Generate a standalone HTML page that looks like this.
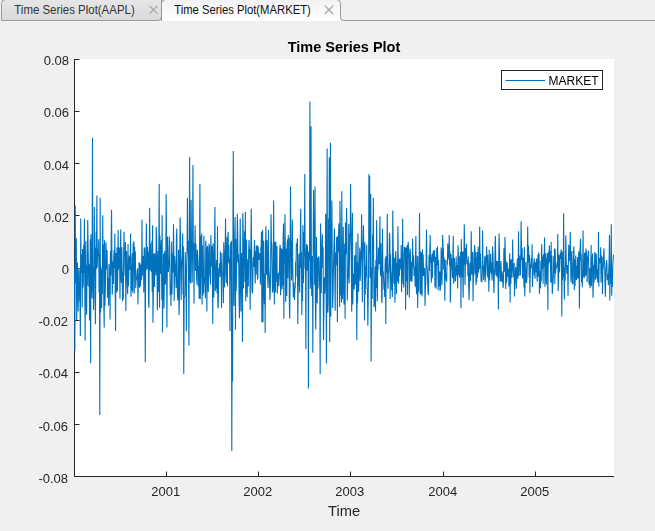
<!DOCTYPE html>
<html><head><meta charset="utf-8"><style>
html,body{margin:0;padding:0;}
body{width:655px;height:531px;background:#f0f0f0;position:relative;overflow:hidden;font-family:"Liberation Sans",sans-serif;}
.tabbar{position:absolute;left:0;top:0;width:655px;height:21px;}
svg{position:absolute;left:0;top:0;}
.plot{will-change:transform;}
</style></head><body>
<svg width="655" height="531" viewBox="0 0 655 531">
<defs>
<linearGradient id="gInact" x1="0" y1="0" x2="0" y2="1"><stop offset="0" stop-color="#e6e6e6"/><stop offset="1" stop-color="#dadada"/></linearGradient>
<linearGradient id="gAct" x1="0" y1="0" x2="0" y2="1"><stop offset="0" stop-color="#f2f2f4"/><stop offset="1" stop-color="#ffffff"/></linearGradient>
</defs>
<!-- tab bar -->
<path d="M1.5,20.5 L1.5,3.5 Q1.5,-0.5 5.5,-0.5 L161.5,-0.5 L161.5,17 Q161.5,20.5 158,20.5 Z" fill="url(#gInact)" stroke="#9a9a9a" stroke-width="1"/>
<line x1="0" y1="21.5" x2="161" y2="21.5" stroke="#f5f5f5"/>
<rect x="162" y="0" width="178" height="21" fill="url(#gAct)"/>
<path d="M161.5,21 L161.5,3.5 Q161.5,-0.5 165.5,-0.5 L336.5,-0.5 Q340.5,-0.5 340.5,3.5 L340.5,17 Q340.5,20.5 344,20.5 L655,20.5" fill="none" stroke="#9a9a9a" stroke-width="1"/>
<g font-family="Liberation Sans" font-size="12.3">
<text x="14.3" y="13.8" fill="#333" textLength="120.4" lengthAdjust="spacingAndGlyphs">Time Series Plot(AAPL)</text>
<text x="174.2" y="13.8" fill="#111" textLength="136.6" lengthAdjust="spacingAndGlyphs">Time Series Plot(MARKET)</text>
</g>
<g stroke="#a4a4a4" stroke-width="1.2">
<path d="M149.6,5.8 L157.4,13.6 M157.4,5.8 L149.6,13.6"/>
<path d="M324.8,5.6 L333.2,14 M333.2,5.6 L324.8,14"/>
</g>
</svg>
<svg class="plot" width="655" height="531" viewBox="0 0 655 531">
<!-- plot area -->
<rect x="74" y="59" width="540" height="418" fill="#ffffff"/>
<g stroke="#262626" stroke-width="1" fill="none">
<line x1="74.5" y1="59" x2="74.5" y2="477"/>
<line x1="74" y1="476.5" x2="614" y2="476.5"/>
<line x1="74.5" y1="59.5" x2="79.5" y2="59.5"/><line x1="74.5" y1="111.5" x2="79.5" y2="111.5"/><line x1="74.5" y1="163.5" x2="79.5" y2="163.5"/><line x1="74.5" y1="215.5" x2="79.5" y2="215.5"/><line x1="74.5" y1="268.5" x2="79.5" y2="268.5"/><line x1="74.5" y1="320.5" x2="79.5" y2="320.5"/><line x1="74.5" y1="372.5" x2="79.5" y2="372.5"/><line x1="74.5" y1="424.5" x2="79.5" y2="424.5"/><line x1="74.5" y1="476.5" x2="79.5" y2="476.5"/><line x1="166.5" y1="476.5" x2="166.5" y2="471.5"/><line x1="258.5" y1="476.5" x2="258.5" y2="471.5"/><line x1="350.5" y1="476.5" x2="350.5" y2="471.5"/><line x1="443.5" y1="476.5" x2="443.5" y2="471.5"/><line x1="535.5" y1="476.5" x2="535.5" y2="471.5"/>
</g>
<g fill="none" stroke="#0072bd" stroke-width="1.1" stroke-linejoin="miter"><polyline points="74.50,267.9 74.87,350.7 75.23,205.4 75.60,283.4 75.97,263.0 76.33,238.3 76.70,320.5 77.07,281.3 77.43,262.5 77.80,285.0 78.17,311.5 78.53,285.3 78.90,268.7 79.27,271.3 79.63,301.4 80.00,300.4 80.37,335.9 80.73,218.6 81.10,272.9 81.47,254.4 81.83,259.7 82.20,307.5 82.57,249.1 82.93,288.0 83.30,283.6 83.67,245.2 84.03,273.0 84.40,218.6 84.77,278.3 85.13,340.8 85.50,268.5 85.87,241.2 86.23,299.5 86.60,314.7 86.97,265.2 87.33,285.7 87.70,220.0 88.07,244.7 88.43,266.1 88.80,286.8 89.17,264.2 89.53,320.5 89.90,307.9 90.27,239.2 90.63,363.2 91.00,234.3 91.37,275.5 91.73,284.2 92.10,298.6 92.47,137.8 92.83,290.6 93.20,267.6 93.57,310.0 93.93,296.3 94.30,207.0 94.67,276.0 95.03,247.4 95.40,324.3 95.77,274.9 96.13,231.8 96.50,269.1 96.87,195.5 97.23,267.5 97.60,253.9 97.97,248.8 98.33,256.0 98.70,239.3 99.07,292.1 99.43,254.1 99.80,415.0 100.17,197.8 100.53,312.6 100.90,266.5 101.27,304.9 101.63,308.0 102.00,269.4 102.37,293.9 102.73,215.3 103.10,262.7 103.47,244.6 103.83,304.3 104.20,327.6 104.57,240.3 104.93,306.1 105.30,290.1 105.67,265.6 106.03,242.2 106.40,269.4 106.77,254.1 107.13,249.9 107.50,297.8 107.87,287.9 108.23,277.8 108.60,305.4 108.97,264.0 109.33,271.3 109.70,268.0 110.07,319.4 110.43,251.3 110.80,275.4 111.17,241.8 111.53,209.7 111.90,254.9 112.27,294.7 112.63,279.2 113.00,261.5 113.37,284.0 113.73,258.8 114.10,250.1 114.47,268.0 114.83,233.4 115.20,289.4 115.57,331.0 115.93,253.0 116.30,260.4 116.67,292.4 117.03,247.2 117.40,291.1 117.77,272.7 118.13,230.0 118.50,269.5 118.87,255.4 119.23,247.6 119.60,254.9 119.97,298.8 120.33,261.6 120.70,229.5 121.07,273.9 121.43,282.9 121.80,247.3 122.17,271.2 122.53,301.3 122.90,271.4 123.27,299.2 123.63,259.0 124.00,231.8 124.37,255.9 124.73,250.6 125.10,275.9 125.47,242.0 125.83,311.1 126.20,273.6 126.57,250.9 126.93,280.1 127.30,283.0 127.67,294.0 128.03,244.0 128.40,286.3 128.77,274.5 129.13,259.2 129.50,255.6 129.87,269.6 130.23,267.1 130.60,233.4 130.97,296.7 131.33,266.7 131.70,290.8 132.07,257.6 132.43,253.3 132.80,292.7 133.17,242.7 133.53,268.5 133.90,241.3 134.27,293.5 134.63,246.7 135.00,272.6 135.37,251.6 135.73,288.3 136.10,280.1 136.47,279.5 136.83,276.0 137.20,271.2 137.57,268.4 137.93,304.6 138.30,283.8 138.67,284.0 139.03,262.3 139.40,287.7 139.77,262.9 140.13,265.2 140.50,286.4 140.87,264.4 141.23,280.0 141.60,279.1 141.97,219.6 142.33,275.7 142.70,258.5 143.07,256.8 143.43,256.0 143.80,292.5 144.17,248.4 144.53,247.5 144.90,251.0 145.27,362.2 145.63,264.1 146.00,270.7 146.37,223.5 146.73,265.9 147.10,269.0 147.47,246.8 147.83,253.7 148.20,253.2 148.57,303.0 148.93,307.7 149.30,249.4 149.67,207.7 150.03,270.5 150.40,243.3 150.77,261.9 151.13,268.7 151.50,272.2 151.87,240.7 152.23,292.2 152.60,225.2 152.97,322.7 153.33,292.5 153.70,253.5 154.07,272.2 154.43,286.9 154.80,253.2 155.17,265.7 155.53,263.9 155.90,275.4 156.27,226.8 156.63,239.6 157.00,265.4 157.37,310.3 157.73,286.6 158.10,250.9 158.47,291.9 158.83,243.5 159.20,184.0 159.57,307.7 159.93,235.7 160.30,258.8 160.67,273.9 161.03,249.0 161.40,240.1 161.77,299.8 162.13,215.3 162.50,332.6 162.87,278.3 163.23,298.8 163.60,253.7 163.97,308.5 164.33,279.9 164.70,251.1 165.07,271.0 165.43,284.5 165.80,268.3 166.17,193.9 166.53,240.9 166.90,327.6 167.27,271.4 167.63,236.6 168.00,257.3 168.37,271.9 168.73,266.0 169.10,265.2 169.47,236.7 169.83,255.0 170.20,295.3 170.57,282.1 170.93,306.1 171.30,283.1 171.67,241.4 172.03,294.6 172.40,253.2 172.77,272.5 173.13,270.9 173.50,224.2 173.87,256.9 174.23,300.9 174.60,256.1 174.97,262.2 175.33,276.6 175.70,264.3 176.07,287.9 176.43,237.9 176.80,228.5 177.17,282.4 177.53,295.6 177.90,300.4 178.27,281.7 178.63,249.8 179.00,315.0 179.37,302.2 179.73,263.4 180.10,217.6 180.47,235.0 180.83,270.2 181.20,300.1 181.57,267.4 181.93,260.6 182.30,254.8 182.67,233.4 183.03,294.6 183.40,246.6 183.77,374.1 184.13,298.5 184.50,296.7 184.87,295.2 185.23,251.9 185.60,273.0 185.97,266.1 186.33,331.2 186.70,261.2 187.07,250.8 187.43,197.8 187.80,252.7 188.17,240.9 188.53,270.9 188.90,345.5 189.27,239.8 189.63,157.0 190.00,276.9 190.37,281.5 190.73,283.6 191.10,199.8 191.47,244.9 191.83,246.0 192.20,282.4 192.57,244.0 192.93,164.9 193.30,249.9 193.67,250.9 194.03,303.6 194.40,243.3 194.77,253.9 195.13,225.2 195.50,270.9 195.87,243.7 196.23,257.1 196.60,275.0 196.97,284.9 197.33,249.8 197.70,255.3 198.07,262.1 198.43,286.7 198.80,266.2 199.17,298.7 199.53,253.6 199.90,184.0 200.27,299.2 200.63,283.6 201.00,235.8 201.37,277.4 201.73,233.5 202.10,304.4 202.47,245.2 202.83,295.7 203.20,281.8 203.57,293.3 203.93,235.8 204.30,276.3 204.67,281.9 205.03,284.5 205.40,298.2 205.77,240.7 206.13,247.5 206.50,247.6 206.87,311.5 207.23,263.8 207.60,246.0 207.97,284.0 208.33,292.1 208.70,256.8 209.07,244.7 209.43,245.3 209.80,274.2 210.17,277.9 210.53,284.8 210.90,235.0 211.27,261.1 211.63,266.4 212.00,245.7 212.37,266.8 212.73,324.0 213.10,243.2 213.47,280.4 213.83,297.4 214.20,259.8 214.57,240.8 214.93,207.0 215.30,291.2 215.67,269.5 216.03,288.8 216.40,260.0 216.77,284.5 217.13,293.4 217.50,226.2 217.87,308.3 218.23,306.6 218.60,281.6 218.97,268.0 219.33,273.6 219.70,263.1 220.07,277.1 220.43,251.5 220.80,271.2 221.17,261.4 221.53,308.0 221.90,253.1 222.27,275.1 222.63,273.2 223.00,273.4 223.37,303.2 223.73,242.3 224.10,256.8 224.47,287.4 224.83,256.7 225.20,249.5 225.57,218.6 225.93,275.5 226.30,283.0 226.67,263.6 227.03,237.3 227.40,286.4 227.77,238.0 228.13,231.9 228.50,262.3 228.87,245.0 229.23,264.2 229.60,258.6 229.97,331.2 230.33,270.6 230.70,242.5 231.07,280.1 231.43,240.9 231.80,451.0 232.17,319.2 232.53,381.3 232.90,240.7 233.27,151.0 233.63,282.5 234.00,305.9 234.37,264.1 234.73,234.7 235.10,217.0 235.47,329.8 235.83,238.7 236.20,290.9 236.57,267.1 236.93,257.3 237.30,213.7 237.67,230.8 238.03,262.3 238.40,253.9 238.77,265.6 239.13,303.6 239.50,318.2 239.87,262.0 240.23,218.6 240.60,273.0 240.97,311.5 241.33,252.7 241.70,256.5 242.07,254.8 242.43,341.9 242.80,213.0 243.17,227.0 243.53,288.4 243.90,245.7 244.27,247.2 244.63,231.3 245.00,282.1 245.37,212.0 245.73,301.3 246.10,272.5 246.47,239.4 246.83,289.4 247.20,297.1 247.57,266.0 247.93,259.1 248.30,286.5 248.67,251.3 249.03,240.1 249.40,249.9 249.77,248.9 250.13,309.7 250.50,273.8 250.87,246.7 251.23,208.7 251.60,245.3 251.97,288.9 252.33,293.5 252.70,289.5 253.07,262.4 253.43,257.0 253.80,266.9 254.17,251.8 254.53,240.0 254.90,270.5 255.27,283.5 255.63,251.2 256.00,260.4 256.37,245.9 256.73,274.5 257.10,245.1 257.47,279.5 257.83,278.5 258.20,246.4 258.57,256.5 258.93,260.0 259.30,252.9 259.67,256.2 260.03,253.9 260.40,284.5 260.77,248.5 261.13,248.8 261.50,231.8 261.87,322.2 262.23,294.2 262.60,230.0 262.97,322.2 263.33,276.2 263.70,240.8 264.07,288.0 264.43,304.2 264.80,273.8 265.17,333.0 265.53,245.4 265.90,226.2 266.27,267.9 266.63,274.8 267.00,239.9 267.37,255.8 267.73,282.2 268.10,287.9 268.47,230.0 268.83,267.7 269.20,273.8 269.57,284.9 269.93,300.3 270.30,289.8 270.67,268.9 271.03,214.3 271.40,241.7 271.77,244.9 272.13,264.2 272.50,292.5 272.87,291.4 273.23,285.9 273.60,200.5 273.97,257.9 274.33,304.4 274.70,243.5 275.07,242.1 275.43,292.4 275.80,241.6 276.17,281.5 276.53,265.5 276.90,246.0 277.27,293.8 277.63,285.6 278.00,278.8 278.37,272.7 278.73,286.0 279.10,279.1 279.47,268.9 279.83,248.2 280.20,244.9 280.57,295.3 280.93,279.8 281.30,248.2 281.67,284.2 282.03,289.4 282.40,249.3 282.77,285.5 283.13,241.7 283.50,223.5 283.87,318.7 284.23,242.8 284.60,264.1 284.97,214.3 285.33,254.6 285.70,301.9 286.07,284.7 286.43,248.4 286.80,296.0 287.17,244.7 287.53,239.4 287.90,278.3 288.27,235.0 288.63,250.5 289.00,238.1 289.37,304.0 289.73,318.7 290.10,279.6 290.47,186.6 290.83,238.1 291.20,247.0 291.57,280.6 291.93,266.0 292.30,219.6 292.67,260.0 293.03,284.4 293.40,297.3 293.77,282.5 294.13,295.3 294.50,299.9 294.87,287.8 295.23,288.6 295.60,261.8 295.97,276.7 296.33,244.1 296.70,244.5 297.07,244.8 297.43,238.4 297.80,324.0 298.17,288.4 298.53,281.8 298.90,253.5 299.27,274.6 299.63,292.6 300.00,266.6 300.37,233.5 300.73,208.7 301.10,267.7 301.47,251.9 301.83,315.0 302.20,276.1 302.57,301.3 302.93,225.2 303.30,283.3 303.67,272.8 304.03,232.0 304.40,256.6 304.77,174.1 305.13,268.6 305.50,252.1 305.87,349.0 306.23,249.8 306.60,243.9 306.97,270.7 307.33,245.0 307.70,252.2 308.07,270.3 308.43,388.4 308.80,251.5 309.17,255.8 309.53,260.7 309.90,101.6 310.27,288.7 310.63,269.5 311.00,126.3 311.37,262.4 311.73,296.3 312.10,256.0 312.47,273.2 312.83,352.7 313.20,243.6 313.57,189.9 313.93,248.1 314.30,244.2 314.67,284.9 315.03,186.6 315.40,301.2 315.77,329.4 316.13,292.0 316.50,237.1 316.87,285.0 317.23,303.3 317.60,257.7 317.97,288.6 318.33,259.0 318.70,256.2 319.07,260.4 319.43,279.8 319.80,291.9 320.17,374.1 320.53,223.5 320.90,243.3 321.27,293.2 321.63,248.2 322.00,248.7 322.37,234.3 322.73,267.9 323.10,247.3 323.47,340.1 323.83,315.1 324.20,277.4 324.57,293.9 324.93,291.5 325.30,277.8 325.67,213.7 326.03,226.5 326.40,363.4 326.77,278.2 327.13,148.4 327.50,306.3 327.87,312.6 328.23,301.2 328.60,218.4 328.97,244.5 329.33,157.6 329.70,342.0 330.07,220.2 330.43,142.8 330.80,316.5 331.17,221.7 331.53,255.4 331.90,200.5 332.27,265.1 332.63,308.0 333.00,296.0 333.37,272.3 333.73,256.3 334.10,239.9 334.47,228.5 334.83,277.1 335.20,310.8 335.57,252.6 335.93,265.2 336.30,254.8 336.67,236.9 337.03,243.6 337.40,322.2 337.77,236.1 338.13,252.2 338.50,239.2 338.87,223.5 339.23,234.8 339.60,306.9 339.97,201.1 340.33,233.0 340.70,295.6 341.07,285.3 341.43,302.5 341.80,191.2 342.17,288.9 342.53,299.2 342.90,265.2 343.27,226.7 343.63,285.9 344.00,304.6 344.37,261.1 344.73,243.6 345.10,318.7 345.47,222.8 345.83,254.4 346.20,243.8 346.57,207.7 346.93,231.3 347.30,300.4 347.67,280.0 348.03,278.2 348.40,264.4 348.77,224.0 349.13,283.3 349.50,255.3 349.87,233.8 350.23,236.4 350.60,184.0 350.97,235.8 351.33,264.6 351.70,311.4 352.07,234.2 352.43,213.0 352.80,304.4 353.17,282.5 353.53,273.4 353.90,276.3 354.27,289.5 354.63,255.3 355.00,282.0 355.37,284.6 355.73,259.1 356.10,241.8 356.47,282.2 356.83,340.1 357.20,262.6 357.57,303.5 357.93,233.4 358.30,273.5 358.67,291.7 359.03,268.2 359.40,265.5 359.77,247.6 360.13,280.9 360.50,273.1 360.87,250.9 361.23,258.7 361.60,214.3 361.97,256.0 362.33,302.3 362.70,251.8 363.07,242.7 363.43,225.2 363.80,248.5 364.17,263.1 364.53,320.5 364.90,242.3 365.27,295.0 365.63,265.4 366.00,276.1 366.37,276.5 366.73,244.7 367.10,288.7 367.47,288.9 367.83,325.8 368.20,300.0 368.57,273.6 368.93,174.1 369.30,252.9 369.67,176.0 370.03,277.7 370.40,224.7 370.77,193.9 371.13,361.6 371.50,289.0 371.87,267.5 372.23,299.1 372.60,234.4 372.97,246.3 373.33,197.8 373.70,263.4 374.07,307.2 374.43,304.3 374.80,296.6 375.17,266.4 375.53,311.5 375.90,259.7 376.27,288.1 376.63,220.2 377.00,253.0 377.37,301.2 377.73,266.8 378.10,269.4 378.47,247.4 378.83,259.9 379.20,263.9 379.57,249.9 379.93,216.3 380.30,268.6 380.67,275.6 381.03,243.3 381.40,273.7 381.77,303.0 382.13,297.1 382.50,228.7 382.87,275.3 383.23,271.3 383.60,279.8 383.97,289.4 384.33,281.8 384.70,296.9 385.07,266.5 385.43,257.4 385.80,324.0 386.17,256.0 386.53,263.5 386.90,272.5 387.27,213.7 387.63,276.9 388.00,288.7 388.37,272.0 388.73,271.9 389.10,260.9 389.47,232.7 389.83,238.2 390.20,298.9 390.57,254.3 390.93,268.7 391.30,273.7 391.67,290.2 392.03,283.1 392.40,296.9 392.77,210.4 393.13,244.8 393.50,265.5 393.87,284.0 394.23,257.4 394.60,266.1 394.97,302.6 395.33,263.1 395.70,250.9 396.07,259.5 396.43,294.0 396.80,263.1 397.17,280.4 397.53,280.9 397.90,226.2 398.27,264.0 398.63,283.7 399.00,258.5 399.37,276.2 399.73,259.0 400.10,260.1 400.47,262.6 400.83,269.8 401.20,245.1 401.57,292.0 401.93,272.4 402.30,277.6 402.67,218.6 403.03,283.9 403.40,274.5 403.77,287.4 404.13,254.4 404.50,246.8 404.87,248.6 405.23,251.0 405.60,309.7 405.97,247.4 406.33,281.4 406.70,278.3 407.07,245.2 407.43,295.3 407.80,251.0 408.17,241.7 408.53,250.0 408.90,256.5 409.27,297.6 409.63,278.5 410.00,248.6 410.37,251.7 410.73,281.0 411.10,262.5 411.47,261.5 411.83,281.9 412.20,276.9 412.57,238.4 412.93,258.3 413.30,267.5 413.67,255.5 414.03,276.0 414.40,273.1 414.77,266.9 415.13,286.6 415.50,259.2 415.87,236.1 416.23,286.5 416.60,294.2 416.97,279.4 417.33,255.8 417.70,308.0 418.07,278.0 418.43,292.1 418.80,256.5 419.17,263.5 419.53,213.0 419.90,288.0 420.27,294.2 420.63,251.4 421.00,294.4 421.37,270.7 421.73,252.4 422.10,296.6 422.47,249.2 422.83,276.0 423.20,254.5 423.57,272.6 423.93,276.1 424.30,267.8 424.67,269.2 425.03,306.1 425.40,287.6 425.77,283.2 426.13,262.3 426.50,229.5 426.87,264.9 427.23,268.8 427.60,278.7 427.97,291.9 428.33,295.1 428.70,279.5 429.07,255.1 429.43,271.0 429.80,250.3 430.17,235.0 430.53,262.9 430.90,257.1 431.27,282.7 431.63,275.9 432.00,253.7 432.37,278.2 432.73,261.1 433.10,251.6 433.47,261.7 433.83,250.3 434.20,251.5 434.57,250.1 434.93,285.7 435.30,287.4 435.67,256.7 436.03,288.7 436.40,263.6 436.77,248.1 437.13,265.4 437.50,246.4 437.87,262.0 438.23,290.2 438.60,260.1 438.97,281.7 439.33,286.4 439.70,271.5 440.07,290.9 440.43,287.1 440.80,276.3 441.17,247.4 441.53,256.3 441.90,285.2 442.27,269.3 442.63,235.0 443.00,247.7 443.37,249.2 443.73,269.8 444.10,257.4 444.47,268.1 444.83,300.8 445.20,259.7 445.57,274.4 445.93,278.5 446.30,278.6 446.67,281.6 447.03,259.9 447.40,264.4 447.77,243.6 448.13,257.3 448.50,245.2 448.87,259.8 449.23,235.0 449.60,265.7 449.97,251.3 450.33,302.6 450.70,282.2 451.07,254.1 451.43,268.4 451.80,258.6 452.17,270.2 452.53,277.9 452.90,255.7 453.27,235.9 453.63,283.5 454.00,281.5 454.37,257.7 454.73,267.4 455.10,273.4 455.47,281.3 455.83,273.7 456.20,256.4 456.57,275.6 456.93,265.1 457.30,269.5 457.67,288.5 458.03,245.3 458.40,256.2 458.77,275.1 459.13,255.8 459.50,277.6 459.87,258.3 460.23,267.2 460.60,252.1 460.97,308.3 461.33,239.0 461.70,272.9 462.07,277.2 462.43,251.4 462.80,274.8 463.17,297.7 463.53,251.8 463.90,264.5 464.27,224.2 464.63,247.0 465.00,285.1 465.37,267.0 465.73,248.1 466.10,259.8 466.47,243.7 466.83,264.3 467.20,261.7 467.57,260.0 467.93,276.2 468.30,256.5 468.67,283.6 469.03,300.0 469.40,288.8 469.77,264.9 470.13,262.4 470.50,281.0 470.87,266.5 471.23,231.2 471.60,274.3 471.97,272.5 472.33,251.9 472.70,253.5 473.07,301.2 473.43,269.3 473.80,276.3 474.17,254.1 474.53,245.3 474.90,249.9 475.27,273.7 475.63,252.3 476.00,285.1 476.37,257.2 476.73,282.1 477.10,252.0 477.47,277.4 477.83,265.8 478.20,246.7 478.57,272.7 478.93,259.7 479.30,269.3 479.67,226.5 480.03,267.9 480.40,253.6 480.77,269.2 481.13,281.1 481.50,281.0 481.87,281.5 482.23,269.1 482.60,230.5 482.97,269.0 483.33,269.3 483.70,280.2 484.07,265.6 484.43,266.5 484.80,255.7 485.17,281.9 485.53,273.8 485.90,257.0 486.27,261.3 486.63,246.5 487.00,264.8 487.37,276.5 487.73,254.8 488.10,278.2 488.47,264.9 488.83,291.8 489.20,249.7 489.57,280.6 489.93,265.6 490.30,272.2 490.67,253.7 491.03,273.3 491.40,262.6 491.77,275.0 492.13,280.4 492.50,246.6 492.87,252.9 493.23,264.0 493.60,281.6 493.97,293.0 494.33,270.0 494.70,274.6 495.07,244.4 495.43,235.9 495.80,267.8 496.17,275.8 496.53,260.8 496.90,269.3 497.27,277.6 497.63,261.0 498.00,263.5 498.37,309.4 498.73,259.8 499.10,233.6 499.47,250.0 499.83,274.8 500.20,281.6 500.57,280.2 500.93,260.9 501.30,272.8 501.67,281.8 502.03,271.4 502.40,274.4 502.77,281.0 503.13,288.1 503.50,279.9 503.87,249.4 504.23,247.9 504.60,271.7 504.97,237.1 505.33,256.0 505.70,288.9 506.07,260.9 506.43,282.9 506.80,279.5 507.17,262.4 507.53,271.6 507.90,276.6 508.27,268.7 508.63,276.7 509.00,286.5 509.37,266.0 509.73,253.3 510.10,302.4 510.47,259.4 510.83,284.0 511.20,259.4 511.57,264.5 511.93,277.8 512.30,269.5 512.67,239.5 513.03,269.9 513.40,270.3 513.77,277.4 514.13,263.1 514.50,296.5 514.87,276.7 515.23,278.5 515.60,267.1 515.97,280.6 516.33,288.8 516.70,273.0 517.07,264.7 517.43,258.4 517.80,278.9 518.17,271.3 518.53,231.2 518.90,275.9 519.27,259.0 519.63,262.2 520.00,255.6 520.37,275.4 520.73,262.2 521.10,221.3 521.47,246.5 521.83,260.1 522.20,248.3 522.57,278.6 522.93,261.2 523.30,257.6 523.67,273.7 524.03,287.5 524.40,246.9 524.77,296.5 525.13,281.6 525.50,281.9 525.87,261.9 526.23,276.1 526.60,283.0 526.97,276.4 527.33,260.9 527.70,226.5 528.07,262.5 528.43,245.8 528.80,254.9 529.17,277.4 529.53,254.9 529.90,293.0 530.27,272.0 530.63,266.8 531.00,264.2 531.37,257.7 531.73,267.8 532.10,244.2 532.47,286.9 532.83,273.2 533.20,275.3 533.57,264.0 533.93,262.3 534.30,258.5 534.67,274.2 535.03,278.8 535.40,262.3 535.77,265.4 536.13,272.1 536.50,258.6 536.87,275.3 537.23,281.6 537.60,264.0 537.97,254.7 538.33,276.8 538.70,253.4 539.07,253.9 539.43,294.1 539.80,279.6 540.17,271.3 540.53,288.2 540.90,261.1 541.27,281.2 541.63,244.2 542.00,265.5 542.37,268.9 542.73,256.5 543.10,283.8 543.47,254.3 543.83,267.0 544.20,258.0 544.57,237.6 544.93,286.9 545.30,270.3 545.67,253.2 546.03,263.1 546.40,284.8 546.77,259.4 547.13,260.5 547.50,253.3 547.87,309.9 548.23,252.3 548.60,264.4 548.97,254.0 549.33,245.3 549.70,262.1 550.07,250.9 550.43,259.6 550.80,282.7 551.17,241.9 551.53,282.4 551.90,255.6 552.27,293.9 552.63,286.1 553.00,282.4 553.37,275.7 553.73,256.2 554.10,271.8 554.47,248.4 554.83,284.1 555.20,249.2 555.57,273.7 555.93,267.7 556.30,267.7 556.67,267.7 557.03,262.5 557.40,267.5 557.77,234.0 558.13,291.1 558.50,281.6 558.87,254.7 559.23,272.3 559.60,270.4 559.97,259.0 560.33,252.9 560.70,258.9 561.07,249.6 561.43,254.1 561.80,316.5 562.17,251.4 562.53,280.2 562.90,265.9 563.27,276.9 563.63,213.3 564.00,276.2 564.37,299.5 564.73,267.8 565.10,281.0 565.47,261.5 565.83,235.5 566.20,259.6 566.57,268.4 566.93,274.0 567.30,267.8 567.67,265.1 568.03,295.8 568.40,261.2 568.77,244.8 569.13,261.7 569.50,252.2 569.87,260.0 570.23,232.1 570.60,257.4 570.97,282.3 571.33,251.0 571.70,262.0 572.07,273.1 572.43,283.9 572.80,283.7 573.17,250.7 573.53,252.7 573.90,246.3 574.27,290.1 574.63,259.6 575.00,286.1 575.37,275.0 575.73,255.5 576.10,272.3 576.47,280.1 576.83,266.0 577.20,278.3 577.57,257.0 577.93,263.9 578.30,278.5 578.67,253.9 579.03,251.0 579.40,308.6 579.77,269.9 580.13,248.4 580.50,238.7 580.87,260.4 581.23,253.9 581.60,282.4 581.97,273.3 582.33,287.2 582.70,267.6 583.07,230.6 583.43,276.6 583.80,269.4 584.17,278.2 584.53,252.7 584.90,265.6 585.27,276.5 585.63,254.1 586.00,248.6 586.37,275.0 586.73,251.2 587.10,281.9 587.47,259.7 587.83,256.6 588.20,260.8 588.57,250.6 588.93,284.5 589.30,275.2 589.67,268.3 590.03,288.2 590.40,283.8 590.77,273.4 591.13,245.0 591.50,286.3 591.87,259.9 592.23,258.9 592.60,253.4 592.97,297.7 593.33,285.9 593.70,264.9 594.07,282.6 594.43,267.2 594.80,252.1 595.17,253.5 595.53,279.8 595.90,270.2 596.27,253.7 596.63,267.0 597.00,278.4 597.37,268.9 597.73,282.5 598.10,278.9 598.47,232.1 598.83,286.4 599.20,261.1 599.57,258.5 599.93,258.5 600.30,263.2 600.67,247.2 601.03,282.6 601.40,255.4 601.77,258.0 602.13,256.7 602.50,293.9 602.87,267.8 603.23,268.8 603.60,256.0 603.97,248.2 604.33,262.2 604.70,263.9 605.07,286.5 605.43,296.7 605.80,271.1 606.17,268.7 606.53,259.9 606.90,264.1 607.27,279.9 607.63,274.1 608.00,278.2 608.37,285.3 608.73,270.2 609.10,261.1 609.47,235.0 609.83,300.5 610.20,266.1 610.57,284.0 610.93,255.3 611.30,224.2 611.67,295.8 612.03,268.1 612.40,287.1 612.77,265.5 613.13,260.3 613.50,254.7"/></g>
<g font-family="Liberation Sans" font-size="13" fill="#262626"><text x="69.0" y="65.0" text-anchor="end">0.08</text><text x="69.0" y="116.8" text-anchor="end">0.06</text><text x="69.0" y="169.9" text-anchor="end">0.04</text><text x="69.0" y="221.7" text-anchor="end">0.02</text><text x="69.0" y="273.6" text-anchor="end">0</text><text x="68.1" y="325.8" text-anchor="end">-0.02</text><text x="68.1" y="378.0" text-anchor="end">-0.04</text><text x="68.1" y="430.6" text-anchor="end">-0.06</text><text x="68.1" y="482.9" text-anchor="end">-0.08</text><text x="165.7" y="496" text-anchor="middle">2001</text><text x="257.7" y="496" text-anchor="middle">2002</text><text x="349.7" y="496" text-anchor="middle">2003</text><text x="442.7" y="496" text-anchor="middle">2004</text><text x="534.7" y="496" text-anchor="middle">2005</text></g>
<text x="344" y="52" text-anchor="middle" font-family="Liberation Sans" font-size="14.5" font-weight="bold" fill="#000">Time Series Plot</text>
<text x="344" y="516" text-anchor="middle" font-family="Liberation Sans" font-size="14.7" fill="#262626">Time</text>
<!-- legend -->
<rect x="501.5" y="70.5" width="101" height="19" fill="#fff" stroke="#262626" stroke-width="1"/>
<line x1="505.5" y1="80.5" x2="545" y2="80.5" stroke="#0072bd" stroke-width="1"/>
<text x="548.5" y="85" font-family="Liberation Sans" font-size="12" fill="#000">MARKET</text>
</svg>
</body></html>
